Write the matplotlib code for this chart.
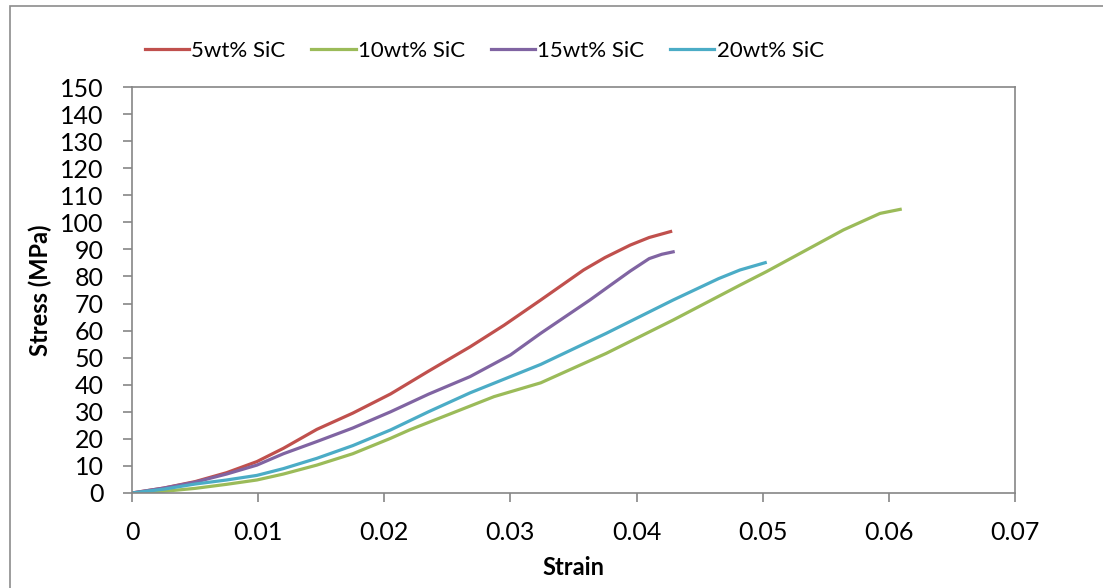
import matplotlib
matplotlib.use('Agg')
import matplotlib.pyplot as plt
from matplotlib.patches import Rectangle

plt.rcParams['font.family'] = ['Lato', 'DejaVu Sans']

# Данные
strain_5 = [0, 0.0025, 0.005, 0.0075, 0.0099, 0.012, 0.01465, 0.0175, 0.0205, 0.0235,
            0.0268, 0.0295, 0.0324, 0.0358, 0.0375, 0.0395, 0.041, 0.0427]
stress_5 = [0, 1.8, 4.2, 7.5, 11.6, 16.5, 23.5, 29.5, 36.6, 45.0,
            54.0, 62.0, 71.3, 82.4, 87.0, 91.6, 94.4, 96.6]

strain_10 = [0, 0.0025, 0.005, 0.0075, 0.0099, 0.012, 0.01465, 0.0175, 0.0205, 0.022,
             0.0287, 0.0324, 0.0376, 0.0429, 0.0482, 0.0503, 0.0564, 0.0593, 0.0609]
stress_10 = [0, 0.6, 1.7, 3.2, 4.8, 7.0, 10.3, 14.5, 20.2, 23.3,
             35.6, 40.7, 51.6, 63.9, 76.8, 81.8, 97.2, 103.3, 104.8]

strain_15 = [0, 0.0025, 0.005, 0.0075, 0.0099, 0.012, 0.01465, 0.0175, 0.0205, 0.0235,
             0.0268, 0.0300, 0.0324, 0.0363, 0.038, 0.0395, 0.041, 0.042, 0.0429]
stress_15 = [0, 1.8, 4.0, 7.0, 10.3, 14.5, 19.0, 24.0, 30.0, 36.5,
             43.0, 51.0, 59.0, 71.3, 77.0, 82.0, 86.6, 88.2, 89.1]

strain_20 = [0, 0.0025, 0.005, 0.0075, 0.0099, 0.012, 0.01465, 0.0175, 0.0205, 0.0235,
             0.0268, 0.0300, 0.0324, 0.0376, 0.0429, 0.0465, 0.0482, 0.0502]
stress_20 = [0, 1.4, 3.3, 4.8, 6.5, 9.0, 12.8, 17.5, 23.3, 30.0,
             37.0, 43.0, 47.5, 59.0, 71.3, 79.2, 82.4, 85.1]

labels = ['5wt% SiC', '10wt% SiC', '15wt% SiC', '20wt% SiC']
x_ticks = [0, 0.01, 0.02, 0.03, 0.04, 0.05, 0.06, 0.07]
x_tick_labels = ['0', '0.01', '0.02', '0.03', '0.04', '0.05', '0.06', '0.07']
y_ticks = list(range(0, 151, 10))

fig = plt.figure(figsize=(11.03, 5.88), dpi=100)
ax = fig.add_axes([0.1197, 0.1616, 0.8005, 0.6904])

# рамка вокруг всей диаграммы
fig.patches.append(Rectangle((10 / 1103, -0.05), 1.2, 1.05 - 6 / 588,
                             transform=fig.transFigure, fill=False,
                             edgecolor='#8c8c8c', linewidth=1.2))

ax.plot(strain_5, stress_5, color='#C0504D', lw=2.3, label=labels[0])
ax.plot(strain_10, stress_10, color='#9BBB59', lw=2.3, label=labels[1])
ax.plot(strain_15, stress_15, color='#8064A2', lw=2.3, label=labels[2])
ax.plot(strain_20, stress_20, color='#4BACC6', lw=2.3, label=labels[3])

ax.set_xlim(0, 0.07)
ax.set_ylim(0, 150)
ax.set_xticks(x_ticks)
ax.set_xticklabels(x_tick_labels)
ax.set_yticks(y_ticks)
for s in ax.spines.values():
    s.set_color('#868686')
    s.set_linewidth(1.2)
ax.tick_params(direction='out', length=6.5, width=1.2, color='#868686',
               labelsize=18)
ax.tick_params(axis='y', pad=14)
ax.tick_params(axis='x', pad=14)

ax.set_xlabel('Strain', fontsize=17, fontweight='bold', labelpad=8)
ax.set_ylabel('Stress (MPa)', fontsize=17, fontweight='bold', labelpad=6)

fig.legend(loc='center', bbox_to_anchor=(0.439, 0.913), ncol=4, frameon=False,
           fontsize=16, handlelength=2.0, handletextpad=0.1, columnspacing=1.15)

fig.savefig('out.png', dpi=100)
